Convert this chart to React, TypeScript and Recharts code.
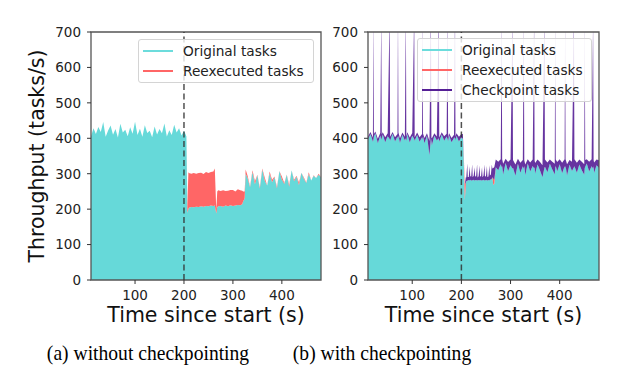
import React from 'react';
import { AreaChart, Area, XAxis, YAxis, ReferenceLine, ReferenceArea } from 'recharts';

const FONT = '"DejaVu Sans", sans-serif';
const CYAN = '#66D9D9';
const RED = '#FF6666';
const PURPLE = '#551E96';

const X_TICKS = [100, 200, 300, 400];
const Y_TICKS = [0, 100, 200, 300, 400, 500, 600, 700];

// (a) without checkpointing
const timeA = [
  10, 15, 20, 25, 30, 35, 40, 45, 50, 55, 60, 65, 70, 75, 80, 85, 90, 95, 100, 105,
  110, 115, 120, 125, 130, 135, 140, 145, 150, 155, 160, 165, 170, 175, 180, 185, 190, 195, 200,
  203, 205, 207, 209, 210, 215, 220, 225, 230, 235, 240, 245, 250, 255, 260,
  263, 266, 268, 270, 275, 280, 285, 290, 295, 300, 305, 310, 315, 319, 321, 324, 326,
  330, 335, 340, 345, 350, 355, 360, 365, 370, 375, 380, 385, 390, 395, 400, 405,
  410, 415, 420, 425, 430, 435, 440, 445, 450, 455, 460, 465, 470, 475, 480,
];
const originalA = [
  405, 428, 412, 432, 418, 446, 404, 422, 436, 410, 426, 402, 441, 416, 424, 406, 431, 413, 447, 409,
  427, 404, 437, 415, 421, 403, 433, 411, 426, 414, 442, 405, 423, 409, 438, 416, 428, 408, 421,
  412, 405, 190, 200, 204, 206, 205, 207, 206, 208, 207, 209, 208, 210, 209,
  210, 188, 205, 208, 209, 207, 210, 208, 211, 209, 210, 212, 211, 214, 222, 230, 300,
  288, 262, 305, 270, 296, 258, 312, 281, 267, 301, 276, 290, 259, 308, 284, 271,
  297, 263, 310, 279, 292, 268, 303, 286, 274, 299, 281, 294, 288, 297, 290,
];
const reexecA = [
  0, 0, 0, 0, 0, 0, 0, 0, 0, 0, 0, 0, 0, 0, 0, 0, 0, 0, 0, 0,
  0, 0, 0, 0, 0, 0, 0, 0, 0, 0, 0, 0, 0, 0, 0, 0, 0, 0, 0,
  0, 0, 20, 105, 98, 94, 97, 93, 96, 95, 92, 96, 94, 95, 97,
  105, 10, 45, 45, 42, 46, 41, 44, 43, 45, 40, 44, 42, 38, 28, 20, 12,
  6, 2, 5, 9, 1, 4, 3, 8, 0, 5, 7, 2, 4, 0, 8, 3,
  1, 6, 0, 4, 2, 7, 0, 3, 1, 5, 0, 2, 0, 3, 1,
];

// (b) with checkpointing
const timeB = [
  10, 15, 20, 21, 22, 25, 30, 35, 37, 38,
  40, 45, 50, 54, 55, 60, 65, 70, 71, 72,
  75, 80, 85, 87, 88, 90, 95, 100, 104, 105,
  110, 115, 120, 121, 122, 125, 130, 135, 138, 139,
  140, 145, 150, 154, 155, 160, 165, 170, 172, 173,
  175, 180, 185, 187, 188, 190, 195, 200, 203, 205,
  207, 209, 210, 212, 213, 215, 217, 218, 220, 222,
  223, 225, 227, 228, 230, 232, 233, 235, 237, 238,
  240, 242, 243, 245, 247, 248, 250, 252, 253, 255,
  257, 258, 260, 262, 263, 265, 267, 270,
  275, 280, 282, 283, 285, 290, 295, 300, 304, 305,
  310, 315, 320, 325, 327, 328, 330, 335, 340, 345,
  348, 349, 350, 355, 360, 365, 369, 370, 375, 380,
  385, 390, 391, 392, 395, 400, 405, 410, 411, 412,
  415, 420, 425, 429, 430, 435, 440, 445, 450, 451,
  452, 455, 460, 465, 468, 469, 470, 475, 480,
];
const originalB = [
  396, 412, 390, 395, 404, 414, 386, 408, 396, 401,
  411, 389, 406, 398, 393, 413, 391, 405, 397, 407,
  387, 410, 394, 400, 392, 412, 388, 407, 398, 393,
  409, 390, 403, 396, 405, 386, 408, 352, 401, 391,
  380, 407, 394, 400, 390, 411, 393, 405, 397, 392,
  408, 389, 401, 402, 394, 407, 391, 403, 398, 330,
  225, 270, 279, 281, 280, 282, 281, 283, 280, 282,
  281, 283, 280, 282, 281, 283, 280, 282, 281, 283,
  280, 282, 281, 283, 280, 282, 281, 283, 280, 282,
  281, 283, 284, 286, 290, 268, 272, 318,
  310, 327, 318, 321, 298, 330, 307, 324, 314, 317,
  294, 328, 303, 321, 313, 322, 296, 329, 306, 322,
  315, 318, 300, 326, 309, 290, 317, 320, 304, 328,
  312, 298, 318, 321, 307, 327, 301, 321, 315, 322,
  295, 325, 308, 318, 321, 303, 326, 310, 297, 316,
  320, 329, 306, 321, 314, 321, 302, 324, 316,
];
const reexecB = [
  0, 0, 0, 0, 0, 0, 0, 0, 0, 0,
  0, 0, 0, 0, 0, 0, 0, 0, 0, 0,
  0, 0, 0, 0, 0, 0, 0, 0, 0, 0,
  0, 0, 0, 0, 0, 0, 0, 0, 0, 0,
  0, 0, 0, 0, 0, 0, 0, 0, 0, 0,
  0, 0, 0, 0, 0, 0, 0, 0, 0, 10,
  45, 5, 0, 0, 0, 0, 0, 0, 0, 0,
  0, 0, 0, 0, 0, 0, 0, 0, 0, 0,
  0, 0, 0, 0, 0, 0, 0, 0, 0, 0,
  0, 0, 0, 0, 0, 18, 12, 0,
  0, 0, 0, 0, 0, 0, 0, 0, 0, 0,
  0, 0, 0, 0, 0, 0, 0, 0, 0, 0,
  0, 0, 0, 0, 0, 0, 0, 0, 0, 0,
  0, 0, 0, 0, 0, 0, 0, 0, 0, 0,
  0, 0, 0, 0, 0, 0, 0, 0, 0, 0,
  0, 0, 0, 0, 0, 0, 0, 0, 0,
];
const checkpointB = [
  9, 6, 12, 360, 8, 5, 13, 7, 360, 10,
  6, 14, 8, 360, 11, 5, 12, 7, 360, 9,
  13, 6, 10, 360, 12, 5, 14, 8, 360, 10,
  7, 13, 9, 360, 8, 15, 6, 40, 360, 11,
  20, 7, 11, 360, 12, 6, 13, 8, 360, 10,
  6, 12, 9, 360, 11, 7, 13, 9, 14, 5,
  0, 15, 10, 48, 11, 9, 40, 10, 12, 45,
  9, 11, 38, 10, 12, 44, 9, 11, 42, 10,
  12, 36, 9, 11, 46, 10, 12, 39, 11, 10,
  43, 12, 14, 40, 25, 30, 35, 22,
  24, 14, 420, 20, 30, 12, 26, 16, 420, 22,
  32, 14, 28, 18, 420, 16, 30, 12, 26, 18,
  420, 19, 30, 14, 24, 34, 420, 20, 28, 12,
  22, 30, 420, 19, 26, 14, 30, 20, 420, 19,
  32, 14, 26, 420, 20, 28, 14, 24, 30, 420,
  19, 12, 28, 20, 420, 18, 30, 16, 22,
];

const dataA = timeA.map((t, i) => ({ t, original: originalA[i], reexecuted: reexecA[i] }));
const dataB = timeB.map((t, i) => ({
  t,
  original: originalB[i],
  reexecuted: reexecB[i],
  checkpoint: checkpointB[i],
}));

const tickStyle = { fontSize: 13.5, fill: '#222', fontFamily: FONT };

interface PanelProps {
  data: any[];
  width: number;
  yAxisWidth: number;
  rightMargin: number;
  yLabel?: string;
  withCheckpoint?: boolean;
}

const Panel: React.FC<PanelProps> = ({ data, width, yAxisWidth, rightMargin, yLabel, withCheckpoint }) => (
  <AreaChart width={width} height={340} data={data} margin={{ top: 32, right: rightMargin, left: 0, bottom: 0 }}>
    <XAxis
      dataKey="t"
      type="number"
      domain={[10, 480]}
      ticks={X_TICKS}
      interval={0}
      allowDataOverflow
      axisLine={false}
      tickLine={{ stroke: '#333' }}
      tickSize={4}
      tickMargin={6}
      tick={tickStyle}
      height={60}
      label={{
        value: 'Time since start (s)',
        position: 'insideBottom',
        offset: 18,
        fontSize: 20.5,
        fill: '#111',
        fontFamily: FONT,
      }}
    />
    <YAxis
      type="number"
      domain={[0, 700]}
      ticks={Y_TICKS}
      interval={0}
      allowDataOverflow
      axisLine={false}
      tickLine={{ stroke: '#333' }}
      tickSize={4}
      tickMargin={6}
      tick={tickStyle}
      width={yAxisWidth}
      label={
        yLabel
          ? { value: yLabel, angle: -90, position: 'center', dx: -9, fontSize: 20.5, fill: '#111', fontFamily: FONT }
          : undefined
      }
    />
    <Area type="linear" dataKey="original" stackId="s" stroke="none" fill={CYAN} fillOpacity={1} isAnimationActive={false} dot={false} activeDot={false} />
    <Area type="linear" dataKey="reexecuted" stackId="s" stroke="none" fill={RED} fillOpacity={1} isAnimationActive={false} dot={false} activeDot={false} />
    {withCheckpoint && (
      <Area type="linear" dataKey="checkpoint" stackId="s" stroke="none" fill={PURPLE} fillOpacity={0.9} isAnimationActive={false} dot={false} activeDot={false} />
    )}
    <ReferenceLine x={200} stroke="#333" strokeOpacity={0.85} strokeDasharray="6 3.5" strokeWidth={1.5} />
    <ReferenceArea x1={10} x2={480} y1={0} y2={700} fill="none" stroke="#555" strokeWidth={1.3} ifOverflow="visible" />
  </AreaChart>
);

const LegendBox: React.FC<{ left: number; top: number; width: number; items: { label: string; color: string }[] }> = ({
  left,
  top,
  width,
  items,
}) => (
  <div
    style={{
      position: 'absolute',
      left,
      top,
      width,
      boxSizing: 'border-box',
      border: '1px solid #d4d4d4',
      borderRadius: 3,
      background: 'rgba(255,255,255,0.8)',
      padding: '1px 0 1px 4px',
      fontFamily: FONT,
      fontSize: 13.7,
      color: '#222',
    }}
  >
    {items.map((it) => (
      <div key={it.label} style={{ display: 'flex', alignItems: 'center', height: 20, whiteSpace: 'nowrap' }}>
        <span style={{ display: 'inline-block', width: 30, height: 2, background: it.color, marginRight: 10 }} />
        {it.label}
      </div>
    ))}
  </div>
);

// the paper's caption font is tall and narrow, so it is squeezed a little
const captionStyle: React.CSSProperties = {
  position: 'absolute',
  top: 341.5,
  transform: 'translateX(-50%) scaleX(0.89)',
  whiteSpace: 'nowrap',
  fontFamily: '"Liberation Serif", "Times New Roman", serif',
  fontSize: 22,
  lineHeight: '22px',
  color: '#000',
};

export default function App() {
  return (
    <div style={{ position: 'absolute', left: 0, top: 0, width: 639, height: 381, background: '#fff', overflow: 'hidden' }}>
      <div style={{ position: 'absolute', left: 0, top: 0 }}>
        <Panel data={dataA} width={340} yAxisWidth={91} rightMargin={19} yLabel="Throughput (tasks/s)" />
      </div>
      <div style={{ position: 'absolute', left: 320, top: 0 }}>
        <Panel data={dataB} width={319} yAxisWidth={48} rightMargin={40} withCheckpoint />
      </div>
      <LegendBox
        left={138}
        top={39}
        width={176}
        items={[
          { label: 'Original tasks', color: '#6CDCDC' },
          { label: 'Reexecuted tasks', color: RED },
        ]}
      />
      <LegendBox
        left={417}
        top={38}
        width={175}
        items={[
          { label: 'Original tasks', color: '#6CDCDC' },
          { label: 'Reexecuted tasks', color: RED },
          { label: 'Checkpoint tasks', color: PURPLE },
        ]}
      />
      <div style={{ ...captionStyle, left: 147.5 }}>(a) without checkpointing</div>
      <div style={{ ...captionStyle, left: 381.7 }}>(b) with checkpointing</div>
    </div>
  );
}
